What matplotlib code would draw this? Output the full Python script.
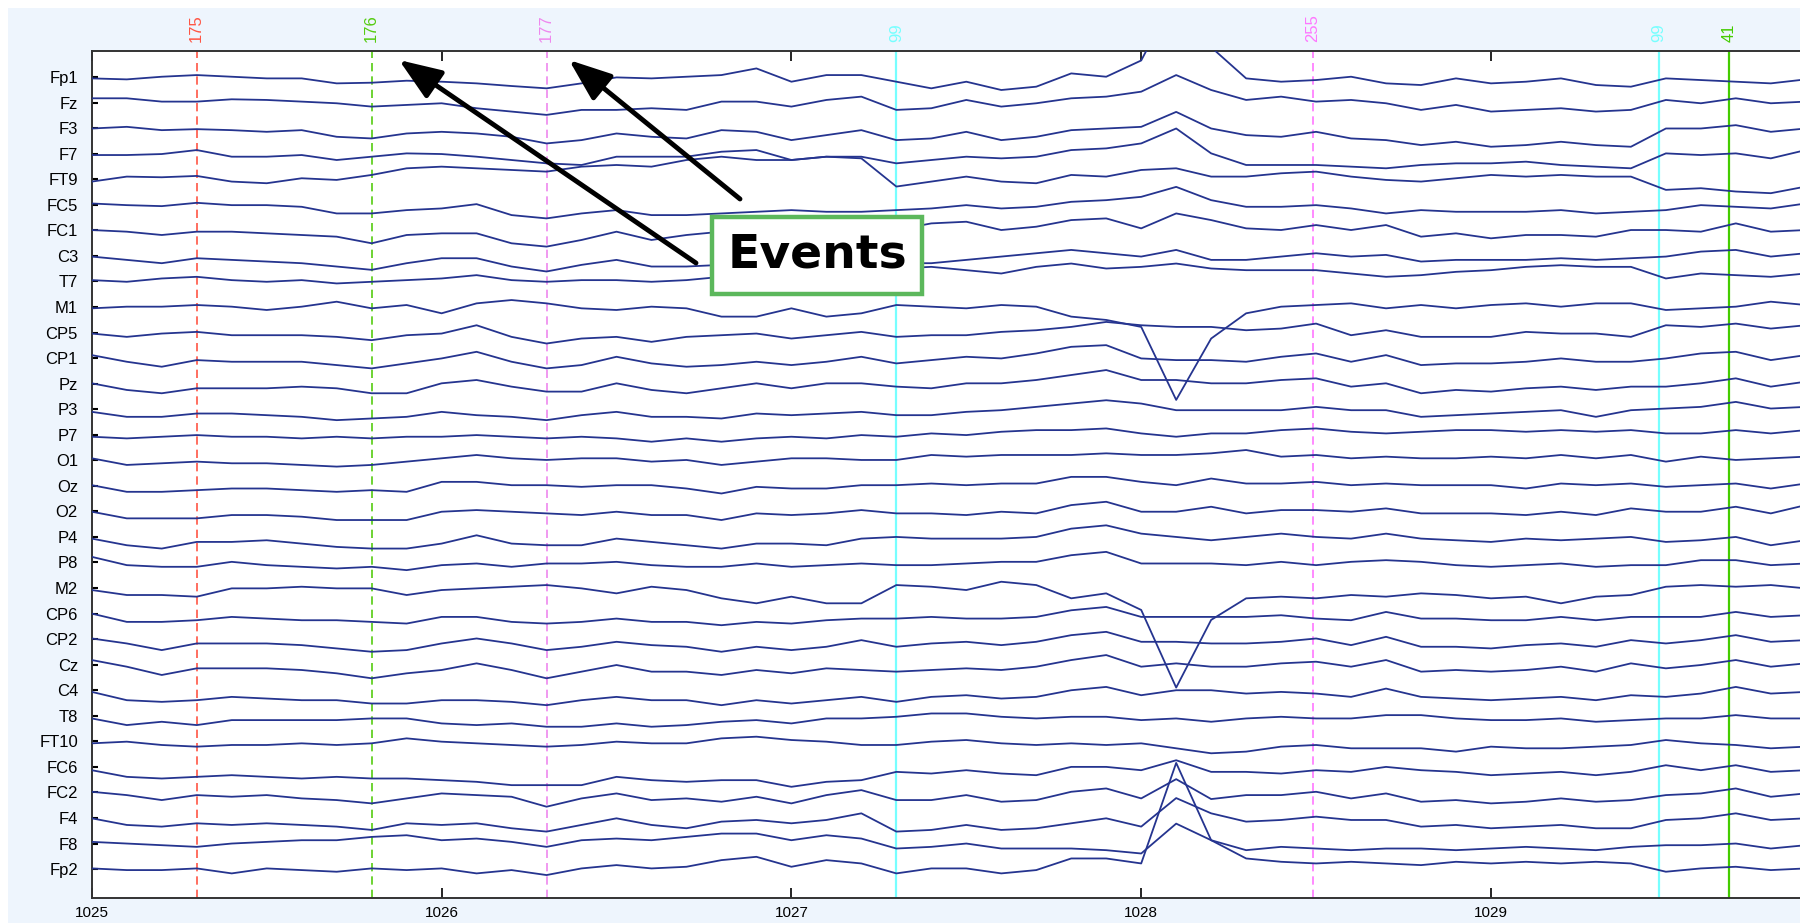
import numpy as np
import matplotlib.pyplot as plt
from matplotlib.patches import Rectangle

plt.rcParams['font.family'] = ['Liberation Sans', 'DejaVu Sans']

# time grid (s), one sample every 0.1 s
times = np.round(np.arange(1025.0, 1029.95, 0.1), 1)

# channel traces in uV (deviation from each channel baseline)
fp1 = [-4, -7, 1, 6, 1, -4, -4, -19, -17, -11, -14, -19, -27, -34, -19, -1, -4,
       1, 6, 26, -14, 6, 6, -14, -34, -14, -39, -29, 11, 1, 50, 250, 90, -4,
       -14, -9, 1, -19, -24, -4, -19, -14, -4, -24, -29, -4, -9, -14, -19, -7]
fz = [13, 13, 3, 3, 10, 8, 3, -2, -12, -7, -2, -17, -27, -37, -22, -22, -17,
      -22, 3, 3, -12, 8, 18, -22, -17, 8, -12, -2, 13, 18, 33, 83, 38, 8,
      18, 3, 8, -2, -22, -7, -27, -22, -17, -27, -22, 8, -2, 13, -2, 3]
f3 = [-1, 4, -6, -3, -6, -11, -6, -26, -31, -16, -11, -16, -26, -46, -36, -16, -26,
      -31, -6, -11, -36, -21, -6, -36, -31, -11, -36, -26, -6, -1, 4, 49, -1, -21,
      -26, -11, -31, -36, -51, -41, -56, -51, -41, -51, -56, -1, -1, 9, -11, -1]
f7 = [-4, -4, -1, 11, -9, -9, -4, -19, -9, 1, -1, -9, -19, -29, -34, -9, -9,
      -9, 6, 11, -19, -9, -9, -29, -19, -9, -14, -9, 11, 16, 31, 76, 1, -34,
      -34, -34, -39, -44, -34, -29, -29, -24, -34, -39, -44, 1, -4, 1, -14, 11]
ft9 = [-7, 8, 6, 10, -7, -12, 3, -2, 13, 33, 38, 33, 28, 23, 38, 43, 38,
       58, 68, 58, 58, 68, 63, -22, -7, 8, -7, -12, 13, 8, 28, 33, 8, 8,
       18, 23, 8, -2, -7, 3, 13, 8, 13, 8, 8, -32, -27, -37, -42, -22]
fc5 = [4, -1, -4, 6, -1, -1, -6, -26, -26, -16, -11, 2, -31, -41, -26, -16, -31,
       -31, -26, -21, -16, -21, -21, -16, -11, -1, -11, -6, 9, 14, 24, 54, 14, -6,
       -6, -1, -11, -26, -16, -21, -21, -21, -16, -26, -21, -16, -1, -6, -11, 4]
fc1 = [1, -4, -14, -4, -4, -9, -14, -19, -39, -14, -9, -9, -39, -49, -29, -4, -29,
       -14, -4, 1, 1, 6, 1, 1, 21, 26, 1, 11, 31, 36, 6, 51, 31, 6,
       1, 16, 1, 16, -19, -9, -24, -14, -14, -19, 1, 1, -4, 21, -4, 1]
c3 = [-2, -12, -22, -7, -12, -17, -22, -32, -42, -22, -7, -7, -32, -47, -27, -12, -32,
      -32, -27, -22, -17, -22, -22, -22, -22, -12, -2, 8, 18, 8, -2, 18, -12, -12,
      -2, 8, -2, 3, -17, -12, -12, -12, -7, -12, -7, -2, 13, 18, -2, 8]
t7 = [4, -1, 9, 14, 4, -1, 4, -6, -1, 4, 9, 19, 4, -1, 4, 4, -1,
      4, 14, 24, 29, 34, 39, 39, 44, 34, 24, 44, 54, 39, 44, 54, 39, 34,
      34, 34, 24, 14, 19, 29, 34, 44, 49, 44, 44, 9, 24, 19, 14, 24]
m1 = [-4, 1, 1, 6, 1, -9, 1, 16, -4, 6, -19, 11, 21, 11, -4, -9, 1,
      -4, -29, -29, -4, -29, -19, 6, 1, -4, 6, 1, -29, -39, -60, -280, -95, -19,
      1, 6, 11, -4, 6, -4, 6, 11, 1, 11, 11, -9, -4, 1, 16, 6]
cp5 = [-3, -13, -3, 2, -8, -8, -8, -13, -23, -8, -3, 22, -13, -33, -18, -13, -28,
       -13, -8, -3, -18, -8, 2, -13, -8, -8, 2, 7, 17, 32, 22, 17, 17, 7,
       12, 27, -8, 7, -13, -13, -13, 2, -3, -3, -13, 22, 17, 27, 12, 22]
cp1 = [9, -11, -26, -6, -11, -11, -11, -21, -31, -16, -1, 19, -11, -31, -21, 4, -16,
       -26, -21, -11, -21, -11, 4, -16, -6, 4, -1, 14, 34, 39, -1, -6, -6, -11,
       4, 14, -11, 9, -21, -16, -16, -11, -1, -11, -11, -1, 14, 19, -6, 9]
pz = [1, -19, -29, -14, -14, -14, -9, -14, -29, -29, 1, 11, -9, -24, -24, 1, -19,
      -29, -14, 1, -14, 1, 1, -9, -14, 1, 1, 11, 26, 41, 11, 11, 1, 1,
      11, 16, -9, 1, -29, -19, -24, -14, -9, -19, -9, -9, 1, 16, -9, 6]
p3 = [-8, -23, -23, -13, -13, -18, -23, -33, -28, -23, -8, -18, -23, -33, -18, -8, -23,
      -23, -28, -13, -18, -13, -8, -18, -18, -8, -3, 7, 17, 27, 17, -3, -3, -3,
      -3, 7, -3, -3, -23, -18, -13, -8, -3, -23, -3, 2, 7, 22, 2, 7]
p7 = [-6, -11, -6, -1, -6, -6, -11, -6, -11, -6, -6, -1, -6, -11, -6, -11, -21,
      -11, -21, -11, -6, -11, -1, -6, 4, -1, 9, 14, 14, 19, 4, -6, 4, 4,
      14, 19, 9, 4, 9, 14, 14, 9, 14, 9, 14, 4, 4, 14, 4, 14]
o1 = [6, -14, -9, -4, -9, -9, -14, -19, -14, -4, 6, 16, 6, 1, 6, 6, -4,
      1, -14, -4, 6, 6, 1, 1, 16, 11, 16, 16, 16, 21, 16, 16, 21, 31,
      11, 16, 6, 11, 6, 6, 11, 6, 16, 6, 16, -4, 11, 1, 6, 11]
oz = [2, -18, -18, -13, -8, -8, -13, -18, -13, -18, 12, 12, 2, 2, -3, 2, 2,
      -8, -23, -3, -8, -8, 2, 2, 7, 2, 7, 7, 27, 27, 12, 2, 22, 7,
      7, 12, 2, 7, 2, 2, 2, -8, 7, 2, 7, -3, 2, 7, -8, 7]
o2 = [-1, -21, -21, -21, -11, -11, -16, -26, -26, -26, -1, 4, -1, -6, -11, -1, -11,
      -11, -26, -6, -11, -6, 4, -6, -6, -11, -1, -6, 19, 29, -1, -1, 14, -6,
      4, 4, -1, 9, -6, -6, -6, -11, -1, -11, 9, -1, -1, 14, -6, 19]
p4 = [-5, -25, -35, -15, -15, -10, -20, -30, -35, -35, -20, 5, -20, -25, -25, -5, -15,
      -25, -35, -20, -20, -25, -5, 0, -5, -5, -5, 0, 25, 35, 10, 0, -10, 0,
      10, 0, -5, 10, -5, -10, -15, -5, -10, -5, 0, -15, -10, 0, -25, -10]
p8 = [17, -8, -13, -13, 2, -8, -13, -18, -13, -23, -8, -3, -13, -3, -3, 2, -8,
      -13, -13, -3, -13, -8, -3, -8, -8, -3, 2, 2, 22, 32, -3, -3, -3, -8,
      2, -8, 2, 7, 2, -8, -13, -8, -3, -13, -8, -8, 7, 7, -8, -3]
m2 = [-6, -21, -21, -26, -1, -1, 4, -1, -1, -21, -6, -1, 4, 9, -1, -16, 4,
      -6, -31, -46, -26, -46, -46, 9, 4, -6, 19, 9, -31, -16, -66, -300, -96, -31,
      -26, -31, -21, -26, -16, -21, -31, -26, -46, -26, -21, 4, 9, 4, 9, -1]
cp6 = [0, -25, -25, -20, -10, -15, -20, -20, -25, -30, -10, -10, -25, -30, -25, -15, -25,
       -25, -35, -25, -30, -20, -15, -15, -10, -15, -15, -10, 10, 20, -10, -10, -10, -10,
       -5, -15, -20, 5, -15, -15, -20, -20, -10, -20, -10, -10, -10, 5, -10, -5]
cp2 = [2, -13, -33, -13, -13, -13, -18, -28, -38, -33, -13, 2, -13, -33, -23, -8, -18,
       -23, -38, -23, -33, -23, -3, -23, -13, -8, -18, -8, 12, 22, -8, -8, -13, -13,
       -8, 2, -18, 7, -23, -23, -28, -18, -13, -23, -3, -13, -3, 12, -8, -3]
cz = [14, -6, -31, -11, -11, -11, -16, -26, -41, -26, -16, 4, -16, -41, -21, -1, -21,
      -21, -31, -16, -26, -11, -16, -21, -16, -11, -16, -6, 14, 29, -6, 4, -6, -6,
      4, 9, -6, 14, -21, -16, -21, -16, -6, -21, 4, -11, -1, 14, -6, 4]
c4 = [-5, -30, -35, -30, -20, -25, -30, -30, -40, -40, -30, -30, -35, -45, -30, -20, -30,
      -30, -45, -30, -40, -30, -20, -35, -20, -15, -25, -20, 0, 10, -15, 0, 0, -10,
      -5, -10, -20, 5, -20, -25, -30, -25, -20, -30, -15, -20, -10, 10, -10, -5]
t8 = [-8, -28, -18, -28, -13, -13, -13, -13, -8, -8, -23, -28, -23, -33, -33, -23, -33,
      -28, -18, -13, -23, -8, -8, -3, 7, 7, -3, -8, -3, -3, -13, -8, -18, -8,
      -3, -8, -8, 2, 2, -8, -13, -13, -8, -18, -13, -8, -8, 2, -8, -8]
ft10 = [-6, -1, -11, -16, -11, -11, -6, -11, -6, 9, -1, -6, -11, -16, -11, -1, -6,
        -6, 9, 14, 4, -1, -11, -11, -1, 4, -6, -11, -6, -11, -6, -21, -36, -31,
        -16, -11, -21, -21, -21, -31, -16, -21, -21, -16, -11, 4, -6, -11, -21, -16]
fc6 = [-10, -30, -35, -30, -25, -30, -35, -30, -35, -35, -40, -45, -55, -55, -55, -30, -40,
       -45, -40, -40, -60, -45, -40, -15, -20, -10, -20, -25, 0, 0, -10, 20, -15, -15,
       -20, -10, -15, 0, -10, -15, -25, -20, -15, -25, -15, 5, -10, 5, -15, -10]
fc2 = [2, -8, -23, -8, -13, -8, -18, -23, -33, -18, -3, -8, -13, -43, -18, -3, -23,
       -18, -28, -13, -33, -8, 7, -23, -23, -8, -28, -23, 2, 12, -18, 40, -20, -8,
       -8, 2, -18, -3, -28, -23, -33, -28, -18, -28, -23, -8, -3, 12, -13, -3]
f4 = [-1, -21, -26, -16, -21, -16, -21, -26, -36, -16, -21, -16, -31, -41, -21, -1, -21,
      -31, -11, -6, -16, -6, 14, -41, -36, -21, -36, -31, -16, -1, -26, 60, 14, -11,
      -6, 4, -6, -6, -26, -21, -31, -26, -21, -31, -31, -6, -1, 14, -6, -1]
f8 = [5, 0, -5, -10, 0, 5, 10, 10, 20, 25, 10, 15, 5, -10, 10, 15, 10,
      20, 30, 30, 10, 25, 15, -15, -10, 0, -15, -15, -15, -20, -30, 60, 10, -20,
      -10, -15, -20, -15, -15, -20, -15, -10, -15, -20, -10, -5, -5, 0, -15, -5]
fp2 = [2, -3, -3, 2, -13, 2, -3, -8, 2, -3, 2, -13, -3, -18, 2, 12, 2,
       7, 27, 37, 7, 27, 17, -13, 2, 2, -13, -3, 32, 32, 17, 320, 87, 32,
       22, 17, 22, 17, 12, 22, 17, 22, 17, 22, 17, -8, 2, 7, -3, 2]

channel_names = ['Fp1', 'Fz', 'F3', 'F7', 'FT9', 'FC5', 'FC1', 'C3', 'T7', 'M1',
                 'CP5', 'CP1', 'Pz', 'P3', 'P7', 'O1', 'Oz', 'O2', 'P4', 'P8',
                 'M2', 'CP6', 'CP2', 'Cz', 'C4', 'T8', 'FT10', 'FC6', 'FC2', 'F4',
                 'F8', 'Fp2']
channel_data = [fp1, fz, f3, f7, ft9, fc5, fc1, c3, t7, m1, cp5, cp1, pz, p3, p7, o1,
                oz, o2, p4, p8, m2, cp6, cp2, cz, c4, t8, ft10, fc6, fc2, f4, f8, fp2]

event_times = [1025.3, 1025.8, 1026.3, 1027.3, 1028.49, 1029.48, 1029.68]
event_labels = ['175', '176', '177', '99', '255', '99', '41']
event_colors = ['#ff5544', '#55cc11', '#ee88ee', '#77ffff', '#ff77ff', '#77ffff', '#44cc00']
event_dashed = [True, True, True, False, True, False, False]

scale = 77  # uV per channel spacing
W, H = 1800, 923

fig = plt.figure(figsize=(W / 100, H / 100), dpi=100)
fig.patches.append(Rectangle((8 / W, 0), 1, 1 - 8 / H, transform=fig.transFigure,
                             facecolor='#eef5fd', edgecolor='none', zorder=-10))
ax = fig.add_axes([91.8 / W, 25.3 / H, 1 - 91.8 / W, 846.7 / H])

n = len(channel_names)
for i, vals in enumerate(channel_data):
    off = n - i
    ax.plot(times, off + np.array(vals) / scale, color='#25348f', lw=1.3, zorder=3)

trans = ax.get_xaxis_transform()
for t, lab, col, dashed in zip(event_times, event_labels, event_colors, event_dashed):
    if dashed:
        ax.axvline(t, color=col, lw=1.2, ls=(0, (5, 3)), zorder=2)
    else:
        ax.axvline(t, color=col, lw=1.6, zorder=2)
    ax.annotate(lab, xy=(t, 1), xycoords=trans, xytext=(0, 6.5), textcoords='offset points',
                rotation=90, ha='center', va='bottom', color=col, fontsize=12,
                annotation_clip=False)

ax.set_xlim(1025, 1025 + (W - 91.8) / 349.8)
ax.set_ylim(-0.12, 33.02)
ax.set_yticks([n - i for i in range(n)])
ax.set_yticklabels(channel_names)
ax.set_xticks([1025, 1026, 1027, 1028, 1029])
ax.tick_params(axis='y', direction='in', length=4.5, width=1.5, pad=10, labelsize=12)
ax.tick_params(axis='x', direction='in', length=7, width=1.2, pad=6, labelsize=11,
               top=True)
for side in ['left', 'bottom', 'top']:
    ax.spines[side].set_color('#333333')
    ax.spines[side].set_linewidth(1.4)
ax.spines['right'].set_visible(False)

# "Events" callout with two arrows
arrow_style = dict(arrowstyle='-|>,head_length=1.3,head_width=0.5', lw=3.5,
                   color='black', shrinkA=0, shrinkB=0, mutation_scale=20)
ax.annotate('', xy=(399 / W, 1 - 60 / H), xycoords='figure fraction',
            xytext=(696 / W, 1 - 263 / H), textcoords='figure fraction',
            arrowprops=arrow_style, annotation_clip=False, zorder=9)
ax.annotate('', xy=(569 / W, 1 - 60 / H), xycoords='figure fraction',
            xytext=(740 / W, 1 - 199 / H), textcoords='figure fraction',
            arrowprops=arrow_style, annotation_clip=False, zorder=9)
fig.text(817 / W, 1 - 255.5 / H, 'Events', family='DejaVu Sans', fontsize=34,
         fontweight='bold', ha='center', va='center', zorder=10,
         bbox=dict(boxstyle='square,pad=0.33', facecolor='white',
                   edgecolor='#5cb85c', linewidth=3.2))

fig.savefig('out.png', dpi=100)
